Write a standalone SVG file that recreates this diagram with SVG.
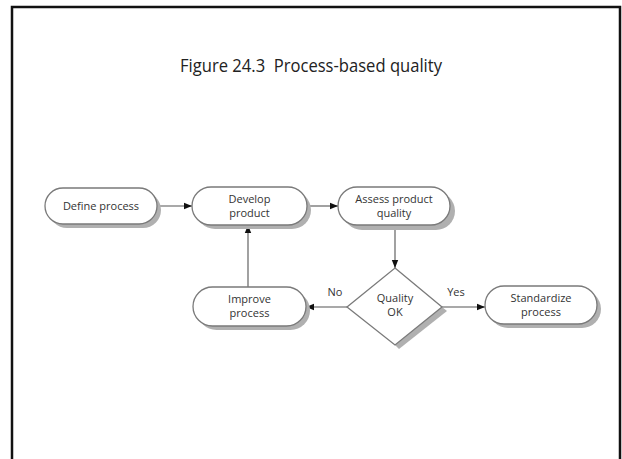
<svg xmlns="http://www.w3.org/2000/svg" width="622" height="459" viewBox="0 0 622 459">
  <defs>
    <marker id="arrow" viewBox="0 0 10 10" refX="10" refY="5" markerWidth="8" markerHeight="8" markerUnits="userSpaceOnUse" orient="auto">
      <path d="M0,1 L10,5 L0,9 Z" fill="#111"/>
    </marker>
    <style>
      .frame { fill: #ffffff; stroke: #111; stroke-width: 2.5; }
      .title { font-family: "Open Sans", "Liberation Sans", sans-serif; font-size: 17.5px; fill: #222; white-space: pre; }
      .shadow { fill: #b0b0b0; }
      .box { fill: #ffffff; stroke: #7a7a7a; stroke-width: 1.3; }
      .label { font-family: "Open Sans", "Liberation Sans", sans-serif; font-size: 11px; fill: #333; text-anchor: middle; }
      .edge { fill: none; stroke: #555; stroke-width: 1.1; marker-end: url(#arrow); }
    </style>
  </defs>

  <rect x="0" y="0" width="622" height="459" fill="#ffffff"/>
  <!-- slide frame, open at the bottom -->
  <path class="frame" d="M12,470 L12,7 L620,7 L620,470"/>

  <text class="title" x="180" y="72" textLength="262" lengthAdjust="spacingAndGlyphs" xml:space="preserve">Figure 24.3  Process-based quality</text>

  <g id="connectors">
    <line class="edge" x1="157" y1="206" x2="192" y2="206"/>
    <line class="edge" x1="307" y1="206" x2="338" y2="206"/>
    <line class="edge" x1="395" y1="225" x2="395" y2="268"/>
    <line class="edge" x1="347" y1="307" x2="306" y2="307"/>
    <line class="edge" x1="442" y1="307" x2="485" y2="307"/>
    <line class="edge" x1="248" y1="287" x2="248" y2="225"/>
    <text class="label" x="335" y="296">No</text>
    <text class="label" x="456" y="296">Yes</text>
  </g>

  <g id="define-process">
    <rect class="shadow" x="49" y="192" width="112" height="36" rx="18"/>
    <rect class="box" x="45" y="188" width="112" height="36" rx="18"/>
    <text class="label" x="101" y="210">Define process</text>
  </g>

  <g id="develop-product">
    <rect class="shadow" x="196" y="191" width="115" height="38" rx="19"/>
    <rect class="box" x="192" y="187" width="115" height="38" rx="19"/>
    <text class="label" x="249.5" y="203">Develop</text>
    <text class="label" x="249.5" y="217">product</text>
  </g>

  <g id="assess-quality">
    <rect class="shadow" x="343" y="192" width="112" height="38" rx="19"/>
    <rect class="box" x="338" y="187" width="112" height="38" rx="19"/>
    <text class="label" x="394" y="203">Assess product</text>
    <text class="label" x="394" y="217">quality</text>
  </g>

  <g id="quality-ok">
    <polygon class="shadow" points="442,307 447,311 399,349 395,345"/>
    <polygon class="box" points="395,268 442,307 395,345 347,307"/>
    <text class="label" x="395" y="302">Quality</text>
    <text class="label" x="395" y="316">OK</text>
  </g>

  <g id="improve-process">
    <rect class="shadow" x="197" y="291" width="113" height="39" rx="19.5"/>
    <rect class="box" x="193" y="287" width="113" height="39" rx="19.5"/>
    <text class="label" x="249.5" y="303">Improve</text>
    <text class="label" x="249.5" y="317">process</text>
  </g>

  <g id="standardize-process">
    <rect class="shadow" x="489" y="290" width="112" height="38" rx="19"/>
    <rect class="box" x="485" y="286" width="112" height="38" rx="19"/>
    <text class="label" x="541" y="302">Standardize</text>
    <text class="label" x="541" y="316">process</text>
  </g>
</svg>
